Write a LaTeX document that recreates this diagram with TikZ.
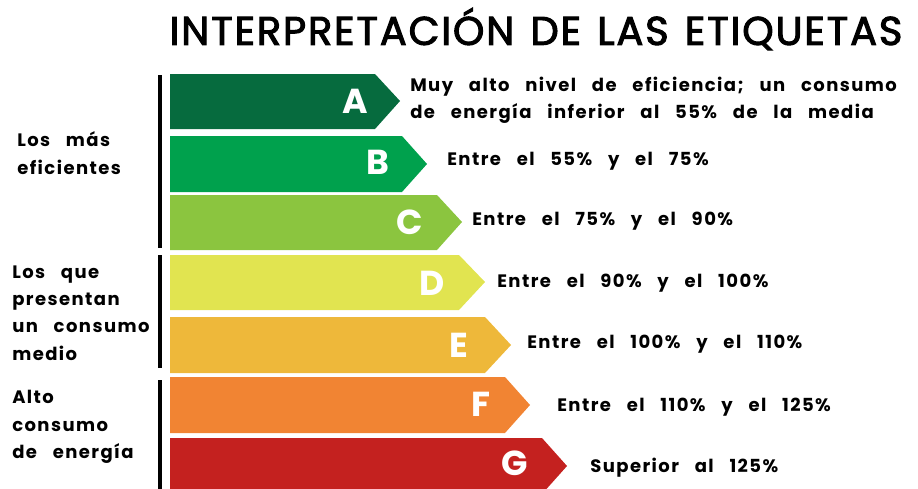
\documentclass[tikz,border=0pt]{standalone}
\usepackage{fontspec}
\setmainfont{Poppins}
\newfontfamily\rotulo[LetterSpace=8,WordSpace=3]{Poppins}
\newfontfamily\titulofont[LetterSpace=4.5,WordSpace=1.3,FakeBold=2.5]{Poppins}
\definecolor{clsA}{RGB}{6,107,62}
\definecolor{clsB}{RGB}{0,161,77}
\definecolor{clsC}{RGB}{139,197,63}
\definecolor{clsD}{RGB}{225,228,80}
\definecolor{clsE}{RGB}{238,184,58}
\definecolor{clsF}{RGB}{241,132,51}
\definecolor{clsG}{RGB}{196,33,31}
\tikzset{
  letra/.style={text=white,font=\fontsize{26}{26}\selectfont\bfseries,inner sep=0pt},
  rangotxt/.style={anchor=west,font=\rotulo\fontsize{13.5}{20}\selectfont\bfseries,align=left,inner sep=0pt},
  grupotxt/.style={anchor=west,font=\rotulo\fontsize{13.5}{20.5}\selectfont\bfseries,align=left,inner sep=0pt},
  barra/.style={line width=3pt}
}
\begin{document}
\begin{tikzpicture}[x=0.75pt,y=-0.75pt]
		\useasboundingbox (0,0) rectangle (918,489);
		\clip (0,0) rectangle (918,489);
		\node[font=\titulofont\fontsize{30}{30}\selectfont,inner sep=0pt] (titulo) at (536,29) {INTERPRETACIÓN DE LAS ETIQUETAS};
		% flechas de clase
		\fill[clsA] (170,74) -- (375,74) -- (400,101) -- (375,129) -- (170,129) -- cycle;
		\fill[clsB] (170,136) -- (402,136) -- (427,164) -- (402,192) -- (170,192) -- cycle;
		\fill[clsC] (170,195) -- (437,195) -- (462,222) -- (437,250) -- (170,250) -- cycle;
		\fill[clsD] (170,255) -- (459,255) -- (485,282) -- (459,310) -- (170,310) -- cycle;
		\fill[clsE] (170,317) -- (485,317) -- (511,345) -- (485,373) -- (170,373) -- cycle;
		\fill[clsF] (170,377) -- (505,377) -- (530,405) -- (505,433) -- (170,433) -- cycle;
		\fill[clsG] (170,438) -- (542,438) -- (567,466) -- (542,494) -- (170,494) -- cycle;
		\node[letra] (A) at (355,101) {A};
		\node[letra] (B) at (378,162) {B};
		\node[letra] (C) at (410,222) {C};
		\node[letra] (D) at (432,283) {D};
		\node[letra] (E) at (459,345) {E};
		\node[letra] (F) at (481,404) {F};
		\node[letra] (G) at (515,463) {G};
		% rangos
		\node[rangotxt] (tA) at (410,100) {Muy alto nivel de eficiencia; un consumo\\de energía inferior al 55\% de la media};
		\node[rangotxt] (tB) at (447,161) {Entre el 55\% y el 75\%};
		\node[rangotxt] (tC) at (472,221) {Entre el 75\% y el 90\%};
		\node[rangotxt] (tD) at (497,283) {Entre el 90\% y el 100\%};
		\node[rangotxt] (tE) at (527,344) {Entre el 100\% y el 110\%};
		\node[rangotxt] (tF) at (557,407) {Entre el 110\% y el 125\%};
		\node[rangotxt] (tG) at (590,468) {Superior al 125\%};
		% grupos
		\draw[barra] (160,75) -- (160,248);
		\draw[barra] (160,255) -- (160,368);
		\draw[barra] (160,380) -- (160,489);
		\node[grupotxt] (g1) at (17,153) {Los más\\eficientes};
		\node[grupotxt] (g2) at (12,313) {Los que\\presentan\\un consumo\\medio};
		\node[grupotxt] (g3) at (12,427) {Alto\\consumo\\de energía};
\end{tikzpicture}
\end{document}
